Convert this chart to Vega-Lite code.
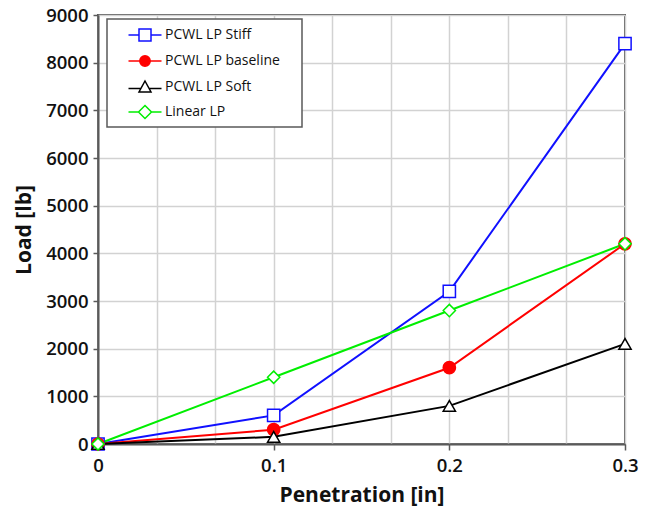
{
  "$schema": "https://vega.github.io/schema/vega-lite/v6.json",
  "width": 527,
  "height": 429,
  "autosize": {"type": "none"},
  "padding": {"left": 98, "top": 15, "right": 28, "bottom": 66},
  "background": "white",
  "config": {
    "view": {"stroke": "#5a5a5a", "strokeWidth": 2},
    "font": "Open Sans",
    "axis": {
      "domainColor": "#5a5a5a",
      "domainWidth": 2,
      "tickColor": "#5a5a5a",
      "tickWidth": 1.5,
      "gridColor": "#d2d2d2",
      "gridWidth": 1.5,
      "labelFont": "Open Sans",
      "labelFontWeight": 600,
      "labelFontSize": 18.5,
      "labelColor": "#111",
      "titleFont": "Open Sans",
      "titleFontWeight": "bold",
      "titleFontSize": 21,
      "titleColor": "#111"
    },
    "legend": {
      "orient": "none",
      "legendX": 9,
      "legendY": 4,
      "padding": 5,
      "strokeColor": "#5a5a5a",
      "strokeWidth": 1.5,
      "fillColor": "white",
      "cornerRadius": 0,
      "symbolSize": 400,
      "symbolStrokeWidth": 1.5,
      "symbolOffset": 22,
      "labelFont": "Open Sans",
      "labelFontSize": 14,
      "labelColor": "#111",
      "labelOffset": 9,
      "rowPadding": 6,
      "labelLimit": 300,
      "titleOrient": "right",
      "titlePadding": 17
    }
  },
  "data": {
    "values": [
      {"series": "PCWL LP Stiff", "penetration": 0.0, "load": 0},
      {"series": "PCWL LP Stiff", "penetration": 0.1, "load": 600},
      {"series": "PCWL LP Stiff", "penetration": 0.2, "load": 3200},
      {"series": "PCWL LP Stiff", "penetration": 0.3, "load": 8400},
      {"series": "PCWL LP baseline", "penetration": 0.0, "load": 0},
      {"series": "PCWL LP baseline", "penetration": 0.1, "load": 300},
      {"series": "PCWL LP baseline", "penetration": 0.2, "load": 1600},
      {"series": "PCWL LP baseline", "penetration": 0.3, "load": 4200},
      {"series": "PCWL LP Soft", "penetration": 0.0, "load": 0},
      {"series": "PCWL LP Soft", "penetration": 0.1, "load": 150},
      {"series": "PCWL LP Soft", "penetration": 0.2, "load": 800},
      {"series": "PCWL LP Soft", "penetration": 0.3, "load": 2100},
      {"series": "Linear LP", "penetration": 0.0, "load": 0},
      {"series": "Linear LP", "penetration": 0.1, "load": 1400},
      {"series": "Linear LP", "penetration": 0.2, "load": 2800},
      {"series": "Linear LP", "penetration": 0.3, "load": 4200}
    ]
  },
  "encoding": {
    "x": {
      "field": "penetration",
      "type": "quantitative",
      "title": "Penetration [in]",
      "scale": {"domain": [0, 0.3], "nice": false, "zero": true},
      "axis": {
        "values": [0, 0.0333333, 0.0666667, 0.1, 0.1333333, 0.1666667, 0.2, 0.2333333, 0.2666667, 0.3],
        "format": ".1~f",
        "labelExpr": "abs(datum.value * 10 - round(datum.value * 10)) < 0.01 ? datum.label : ''",
        "labelOverlap": false,
        "labelFlush": false,
        "labelPadding": 6,
        "tickSize": 6,
        "tickOpacity": {"condition": {"test": "abs(datum.value * 10 - round(datum.value * 10)) < 0.01", "value": 1}, "value": 0},
        "titlePadding": 10
      }
    },
    "y": {
      "field": "load",
      "type": "quantitative",
      "title": "Load [lb]",
      "scale": {"domain": [0, 9000], "nice": false},
      "axis": {
        "values": [0, 1000, 2000, 3000, 4000, 5000, 6000, 7000, 8000, 9000],
        "format": "d",
        "tickSize": 5,
        "labelPadding": 5,
        "labelFlush": false,
        "labelOverlap": false,
        "titlePadding": 11
      }
    }
  },
  "resolve": {"legend": {"stroke": "independent", "fill": "independent", "shape": "independent"}},
  "layer": [
    {
      "mark": {"type": "line", "strokeWidth": 2},
      "encoding": {
        "stroke": {
          "field": "series",
          "type": "nominal",
          "scale": {
            "domain": ["PCWL LP Stiff", "PCWL LP baseline", "PCWL LP Soft", "Linear LP"],
            "range": ["#1010ff", "#ff0000", "#000000", "#00ee00"]
          },
          "legend": {
            "title": "\u00a0",
            "encode": {
              "symbols": {
                "update": {
                  "fill": {"signal": "datum.value === 'PCWL LP baseline' ? '#ff0000' : '#ffffff'"},
                  "shape": {
                    "signal": "datum.value === 'PCWL LP Stiff' ? 'M-1.65,0H-0.6M0.6,0H1.65M-0.6,-0.6H0.6V0.6H-0.6Z' : datum.value === 'PCWL LP baseline' ? 'M-1.65,0H1.65M-0.52,0A0.52,0.52,0,1,1,0.52,0A0.52,0.52,0,1,1,-0.52,0Z' : datum.value === 'PCWL LP Soft' ? 'M-1.65,0.15H-0.38M0.38,0.15H1.65M0,-0.6L0.6,0.5H-0.6Z' : 'M-1.65,0H-0.65M0.65,0H1.65M0,-0.65L0.65,0L0,0.65L-0.65,0Z'"
                  }
                }
              }
            }
          }
        }
      }
    },
    {
      "mark": {"type": "point", "filled": false, "strokeWidth": 1.5, "size": 150, "opacity": 1},
      "encoding": {
        "stroke": {"field": "series", "type": "nominal", "legend": null},
        "fill": {
          "field": "series",
          "type": "nominal",
          "scale": {
            "domain": ["PCWL LP Stiff", "PCWL LP baseline", "PCWL LP Soft", "Linear LP"],
            "range": ["white", "#ff0000", "white", "white"]
          },
          "legend": null
        },
        "shape": {
          "field": "series",
          "type": "nominal",
          "scale": {
            "domain": ["PCWL LP Stiff", "PCWL LP baseline", "PCWL LP Soft", "Linear LP"],
            "range": ["square", "circle", "triangle-up", "diamond"]
          },
          "legend": null
        }
      }
    }
  ]
}
